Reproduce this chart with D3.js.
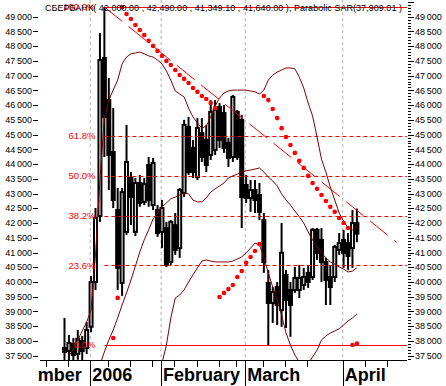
<!DOCTYPE html>
<html>
<head>
<meta charset="utf-8">
<script src="https://cdn.jsdelivr.net/npm/d3@7"></script>
<style>
body { margin: 0; background: #fff; }
svg { display: block; font-family: "Liberation Sans", Arial, sans-serif; }
</style>
</head>
<body>
<svg id="chart" width="446" height="386"></svg>
<script>
// daily bars, index 0 = 23 Dec 2005
var ticker = "СБЕРБАНК";
var opens = [37760, 37660, 37900, 37560, 38000, 37760, 38480, 40000, 42240, 47600,
    46170, 44410, 42440, 39970, 41700, 43530, 41700, 43360, 42720, 43970,
    42610, 42440, 41700, 41830, 40680, 41930, 41150, 43020, 45260, 44550,
    43560, 45050, 44820, 44310, 44480, 45940, 45730, 44720, 44240, 45770,
    45500, 43290, 42850, 43120, 42950, 42100, 39970, 39290, 39830, 39050,
    40240, 39730, 39730, 39730, 39900, 40310, 40170, 41770, 41430, 40680,
    40170, 40170, 41090, 41430, 41320, 41150, 42000];
var highs = [38780, 38200, 38100, 38370, 38170, 38640, 40200, 42510, 48450, 49329,
    46920, 45900, 43190, 43190, 45330, 43730, 43530, 43630, 43530, 44240,
    44210, 42610, 42780, 42040, 42100, 42340, 43190, 45500, 45600, 44820,
    45560, 45560, 45330, 46170, 46170, 46070, 46000, 44890, 46340, 45840,
    45670, 43630, 43460, 43460, 43360, 42340, 40410, 39830, 40000, 42000,
    40410, 40000, 40510, 40580, 40480, 40580, 41830, 41830, 41830, 40820,
    40580, 41260, 41660, 41770, 41660, 42440, 42490];
var lows = [37290, 37290, 37250, 37360, 37290, 37560, 38300, 39730, 42040, 44240,
    43120, 42510, 39730, 39530, 41600, 41930, 41560, 42550, 42610, 42550,
    42440, 41530, 41150, 40510, 40580, 40920, 40820, 42880, 43630, 43530,
    43460, 44070, 43730, 44140, 44310, 44550, 44380, 43900, 44070, 44140,
    41830, 42680, 42380, 42340, 42100, 40310, 37864, 38610, 38540, 38480,
    38440, 38140, 39630, 39460, 39730, 39800, 40070, 40750, 40000, 39220,
    39220, 40000, 40920, 40480, 40410, 40480, 41349.1];
var closes = [37630, 37930, 37520, 38070, 37660, 38370, 40000, 42170, 47530, 45600,
    44310, 42780, 40480, 43050, 44070, 42880, 43360, 42680, 43330, 42780,
    44040, 41660, 42510, 40580, 42040, 41090, 43120, 45330, 43730, 43730,
    45220, 44240, 43970, 45770, 45840, 44820, 44550, 44210, 46280, 44240,
    42880, 42850, 43120, 42780, 42380, 40680, 39290, 39660, 39220, 40990,
    39390, 39220, 40140, 40140, 40170, 40000, 41770, 40990, 40680, 40070,
    39830, 41190, 41320, 40990, 40880, 42000, 41640];

// Bollinger bands and Parabolic SAR
var bbUpper = [null, 37490, 37730, 38030, 38340, 38640, 39050, 40920, 43460, 45560,
    46170, 46510, 46850, 47400, 47630, 47740, 47770, 47800, 47740, 47670,
    47630, 47530, 47400, 47160, 46850, 46480, 46380, 46280, 45900, 45600,
    45390, 45220, 45290, 45600, 45970, 46240, 46410, 46480, 46510, 46510,
    46510, 46510, 46480, 46450, 46380, 46510, 46850, 47020, 47120, 47190,
    47260, 47260, 47230, 46950, 46580, 46070, 45630, 44920, 44170, 43730,
    43220, 42780, 42340, 42070, 41830, 41770, 41900];
var bbMiddle = [null, null, null, null, null, null, null, null, 37190, 37630,
    38030, 38370, 38780, 39220, 39630, 40070, 40540, 41020, 41430, 41770,
    42140, 42340, 42550, 42680, 42820, 42880, 42950, 43020, 42990, 42780,
    42720, 42720, 42850, 43050, 43160, 43260, 43360, 43530, 43600, 43660,
    43730, 43770, 43800, 43830, 43870, 43730, 43560, 43430, 43260, 42990,
    42780, 42610, 42410, 42210, 42000, 41700, 41430, 41190, 40990, 40820,
    40680, 40610, 40510, 40440, 40340, 40370, 40480];
var bbLower = [null, null, null, null, null, null, null, null, null, null,
    null, null, null, null, null, null, null, null, null, null,
    null, null, 37250, 37860, 38780, 39460, 39560, 39730, 40000, 40240,
    40480, 40710, 40750, 40710, 40680, 40680, 40680, 40680, 40710, 40780,
    40850, 40990, 41150, 41320, 41260, 40820, 40310, 39830, 39390, 38880,
    38270, 37860, 37520, 37290, 37190, 37220, 37460, 37690, 38030, 38170,
    38270, 38340, 38410, 38540, 38680, 38780, 38920];
var sar = [null, null, null, null, null, null, null, null, null, null,
    null, 38100, 39460, 49329, 49090, 48920, 48720, 48550, 48380, 48180,
    48010, 47840, 47670, 47500, 47360, 47190, 47020, 46890, 46750, 46580,
    46450, 46310, 46210, 46070, 45900, 39490, 39630, 39760, 39900, 40170,
    40370, 40650, 40850, 41050, 41290, 46310, 46170, 45870, 45560, 45220,
    44920, 44650, 44380, 44110, 43870, 43600, 43360, 43160, 42950, 42750,
    42550, 42380, 42170, 42000, 41830, 37864, 37909.01];

// Fibonacci retracement (January high to March low) and trend line
var fibHigh = 49329, fibLow = 37864, fibStartDay = 9;
var fibRatios = [0, 0.236, 0.382, 0.5, 0.618, 1];
var fibLabels = ["0.0%", "23.6%", "38.2%", "50.0%", "61.8%", "100.0%"];
var trendDays = [9, 75];
var trendValues = [49329, 41340];

// time axis
var monthNames = ["December", "2006", "February", "March", "April"];
var monthStartDays = [-16, 6, 22, 41, 63];
var weekTickDays = [-4, 1, 10, 15, 20, 25, 30, 35, 39, 45, 50, 55, 68, 73];
var priceTicks = d3.range(37500, 49001, 500);

var svg = d3.select("#chart");
var left = 40, right = 407, bottom = 360;

var x = d3.scaleLinear().domain([0, 66]).range([64.5, 356.9]);
var y = d3.scaleLinear().domain([37500, 49000]).range([355.7, 16.7]);
var fmtPrice = d3.format(",.2f");
var fmtTick = function (d) { return d3.format("d")(d).replace(/(\d\d)(\d\d\d)$/, "$1\u2009$2"); };

var defs = svg.append("defs");
defs.append("clipPath").attr("id", "plotClip")
    .append("rect").attr("x", left).attr("y", 0)
    .attr("width", right - left).attr("height", bottom);
defs.append("clipPath").attr("id", "labelClip")
    .append("rect").attr("x", 38).attr("y", bottom)
    .attr("width", 446 - 38).attr("height", 386 - bottom);

var plot = svg.append("g").attr("clip-path", "url(#plotClip)");

// month gridlines
var monthX = monthStartDays.map(function (d) { return x(d - 0.2); });
plot.selectAll(".grid")
    .data(monthX.filter(function (d) { return d > left; }))
    .enter().append("line")
    .attr("x1", function (d) { return d; }).attr("x2", function (d) { return d; })
    .attr("y1", 0).attr("y2", bottom)
    .attr("stroke", "#b0b0b0").attr("stroke-dasharray", "3,3");

// candles
var days = d3.range(opens.length);
var candles = plot.selectAll(".candle")
    .data(days)
    .enter().append("g");
candles.append("line")
    .attr("x1", function (i) { return x(i); }).attr("x2", function (i) { return x(i); })
    .attr("y1", function (i) { return y(highs[i]); })
    .attr("y2", function (i) { return y(lows[i]); })
    .attr("stroke", "#000").attr("stroke-width", 2);
candles.append("rect")
    .attr("x", function (i) { return x(i) - 1.5; })
    .attr("width", 3)
    .attr("y", function (i) { return y(Math.max(opens[i], closes[i])); })
    .attr("height", function (i) { return Math.max(0.5, Math.abs(y(opens[i]) - y(closes[i]))); })
    .attr("fill", function (i) { return closes[i] >= opens[i] ? "#fff" : "#000"; })
    .attr("stroke", "#000").attr("stroke-width", 2);

// fibonacci levels
plot.selectAll(".fib")
    .data(fibRatios)
    .enter().append("line")
    .attr("x1", x(fibStartDay)).attr("x2", right)
    .attr("y1", function (r) { return Math.round(y(fibLow + r * (fibHigh - fibLow))) + 0.5; })
    .attr("y2", function (r) { return Math.round(y(fibLow + r * (fibHigh - fibLow))) + 0.5; })
    .attr("stroke", "#f00")
    .attr("stroke-dasharray", function (r) { return (r === 0 || r === 1) ? null : "4,3"; });

// bollinger bands
var band = d3.line()
    .defined(function (d) { return d != null; })
    .x(function (d, i) { return x(i); })
    .y(function (d) { return y(d); });
[bbUpper, bbMiddle, bbLower].forEach(function (s) {
    plot.append("path").attr("d", band(s))
        .attr("fill", "none").attr("stroke", "#800000").attr("stroke-width", 1);
});

// trend line
plot.append("line")
    .attr("x1", x(trendDays[0])).attr("y1", y(trendValues[0]))
    .attr("x2", x(trendDays[1])).attr("y2", y(trendValues[1]))
    .attr("stroke", "#f00").attr("stroke-dasharray", "23,8");

// parabolic SAR
plot.selectAll(".sar")
    .data(days.filter(function (i) { return sar[i] != null; }))
    .enter().append("circle")
    .attr("cx", function (i) { return x(i); })
    .attr("cy", function (i) { return y(sar[i]); })
    .attr("r", 2.3)
    .attr("fill", "#f00");

// fib labels
svg.selectAll(".fibLabel")
    .data(fibRatios)
    .enter().append("text")
    .attr("x", 95.5)
    .attr("y", function (r) { return y(fibLow + r * (fibHigh - fibLow)); })
    .attr("dy", "0.35em")
    .attr("text-anchor", "end")
    .attr("font-size", 9.5)
    .attr("fill", "#f00")
    .text(function (r, i) { return fibLabels[i]; });

// price axes
svg.selectAll(".lTick")
    .data(priceTicks)
    .enter().append("line")
    .attr("x1", 33).attr("x2", 38)
    .attr("y1", function (d) { return Math.round(y(d)) + 0.5; })
    .attr("y2", function (d) { return Math.round(y(d)) + 0.5; })
    .attr("stroke", "#000");
svg.selectAll(".lLabel")
    .data(priceTicks)
    .enter().append("text")
    .attr("x", 32).attr("y", function (d) { return y(d); })
    .attr("dy", "0.35em").attr("text-anchor", "end")
    .attr("font-size", 9).text(fmtTick);

var minorTicks = d3.range(37400, 49600, 100);
svg.selectAll(".rTick")
    .data(minorTicks)
    .enter().append("line")
    .attr("x1", 408)
    .attr("x2", function (d) { return d % 500 === 0 ? 414 : 411; })
    .attr("y1", function (d) { return Math.round(y(d)) + 0.5; })
    .attr("y2", function (d) { return Math.round(y(d)) + 0.5; })
    .attr("stroke", "#000");
svg.selectAll(".rLabel")
    .data(priceTicks)
    .enter().append("text")
    .attr("x", 415).attr("y", function (d) { return y(d); })
    .attr("dy", "0.35em")
    .attr("font-size", 9).text(fmtTick);

// time axis
svg.append("line")
    .attr("x1", left).attr("x2", right)
    .attr("y1", bottom + 0.5).attr("y2", bottom + 0.5)
    .attr("stroke", "#000");
svg.selectAll(".wTick")
    .data(weekTickDays)
    .enter().append("line")
    .attr("x1", function (d) { return Math.round(x(d - 0.2)) + 0.5; })
    .attr("x2", function (d) { return Math.round(x(d - 0.2)) + 0.5; })
    .attr("y1", bottom).attr("y2", bottom + 7)
    .attr("stroke", "#000");
svg.selectAll(".mTick")
    .data(monthX.filter(function (d) { return d > left; }))
    .enter().append("line")
    .attr("x1", function (d) { return Math.round(d) + 0.5; })
    .attr("x2", function (d) { return Math.round(d) + 0.5; })
    .attr("y1", bottom).attr("y2", 386)
    .attr("stroke", "#000");
svg.append("g").attr("clip-path", "url(#labelClip)")
    .selectAll("text")
    .data(monthNames)
    .enter().append("text")
    .attr("x", function (d, i) { return monthX[i] + 2; })
    .attr("y", 381)
    .attr("font-size", 18).attr("font-weight", "bold")
    .text(function (d) { return d; });

// title
var last = opens.length - 1;
svg.append("text")
    .attr("x", 45).attr("y", 10.5)
    .attr("font-size", 9)
    .attr("textLength", 357).attr("lengthAdjust", "spacing")
    .text(ticker + "( " + fmtPrice(opens[last]) + " , " + fmtPrice(highs[last]) + " , " +
        fmtPrice(lows[last]) + " , " + fmtPrice(closes[last]) + " ), Parabolic SAR(" +
        fmtPrice(sar[last]) + " )");
</script>
</body>
</html>
